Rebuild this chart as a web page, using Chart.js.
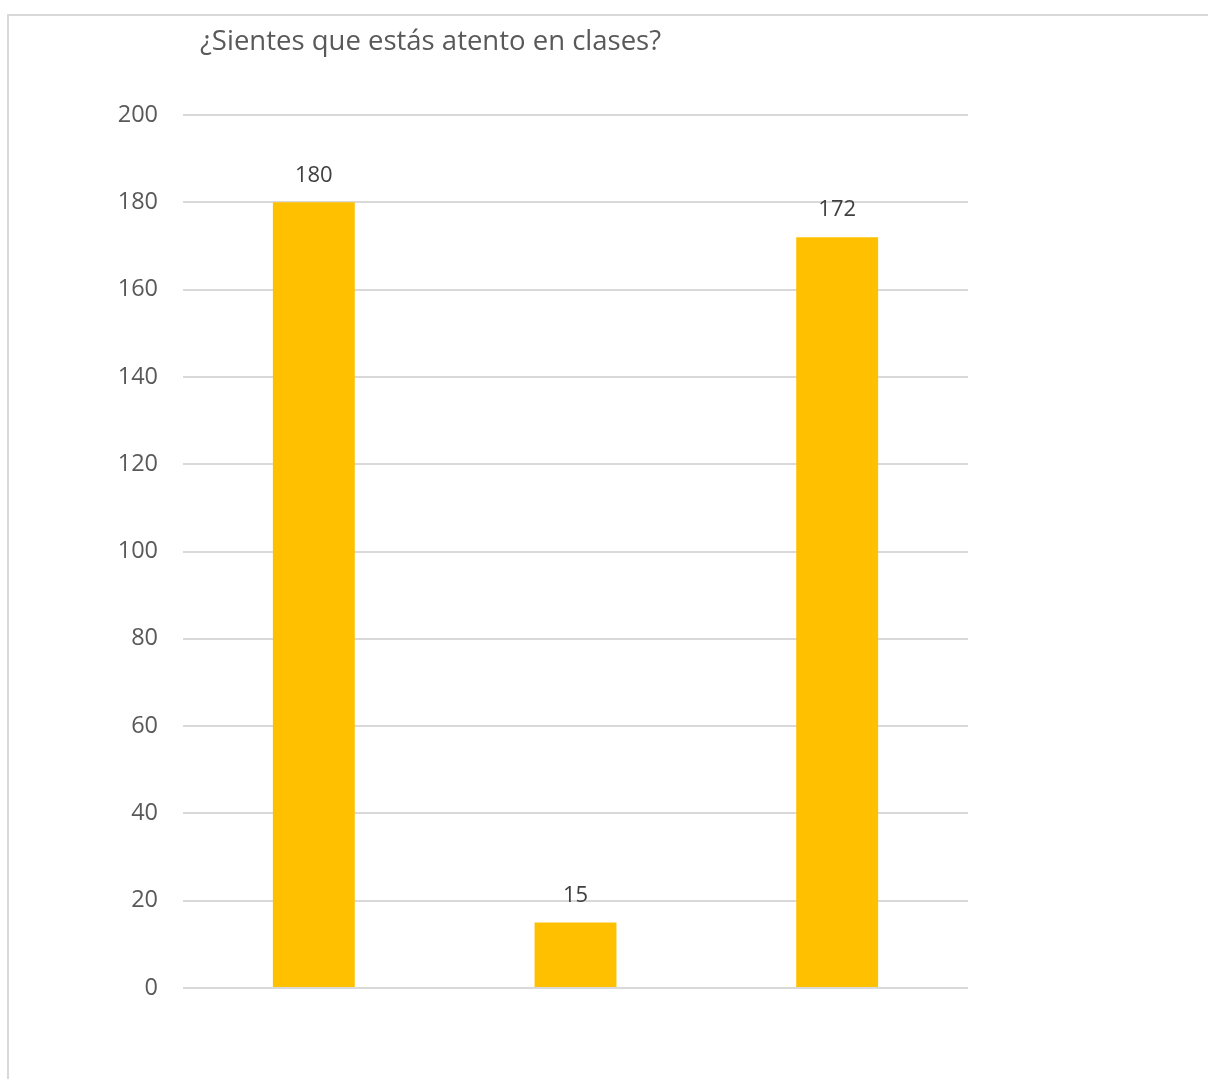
<!DOCTYPE html>
<html>
<head>
<meta charset="utf-8">
<script src="https://cdn.jsdelivr.net/npm/chart.js@4"></script>
<style>
  html, body { margin: 0; padding: 0; background: #fff; }
  #wrap { position: relative; width: 1208px; height: 1079px; overflow: hidden; }
  #frame {
    position: absolute; left: 7px; top: 14px; width: 1300px; height: 1200px;
    border-left: 2px solid #d9d9d9; border-top: 2px solid #d9d9d9;
  }
  #chart { position: absolute; left: 0; top: 0; }
</style>
</head>
<body>
<div id="wrap">
  <div id="frame"></div>
  <canvas id="chart" width="1208" height="1079"></canvas>
</div>
<script>
const title = '¿Sientes que estás atento en clases?';
const categories = ['', '', ''];
const answers = [180, 15, 172];
const yTicks = { min: 0, max: 200, step: 20 };

const FONT = '"Open Sans", "Noto Sans", sans-serif';

// value labels above each bar
const barLabels = {
  id: 'barLabels',
  afterDatasetsDraw(chart) {
    const ctx = chart.ctx;
    const meta = chart.getDatasetMeta(0);
    ctx.save();
    ctx.font = '22px ' + FONT;
    ctx.fillStyle = '#404040';
    ctx.textAlign = 'center';
    ctx.textBaseline = 'middle';
    meta.data.forEach((bar, i) => {
      ctx.fillText(String(answers[i]), bar.x, bar.y - 27);
    });
    ctx.restore();
  }
};

// chart title, left of centre like the sheet it came from
const titleText = {
  id: 'titleText',
  afterDraw(chart) {
    const ctx = chart.ctx;
    ctx.save();
    ctx.font = '27.5px ' + FONT;
    ctx.fillStyle = '#595959';
    ctx.textAlign = 'left';
    ctx.textBaseline = 'middle';
    ctx.fillText(title, 200, 42);
    ctx.restore();
  }
};

new Chart(document.getElementById('chart').getContext('2d'), {
  type: 'bar',
  data: {
    labels: categories,
    datasets: [{
      data: answers,
      backgroundColor: '#FFC000',
      categoryPercentage: 1,
      barPercentage: 0.313
    }]
  },
  options: {
    responsive: false,
    animation: false,
    layout: { padding: { top: 115, bottom: 91, left: 0, right: 240 } },
    plugins: {
      legend: { display: false },
      title: { display: false },
      tooltip: { enabled: false }
    },
    scales: {
      x: {
        display: false
      },
      y: {
        min: yTicks.min,
        max: yTicks.max,
        afterFit(scale) { scale.width = 183; },
        ticks: {
          stepSize: yTicks.step,
          padding: 25,
          color: '#595959',
          font: { family: FONT, size: 23.5 }
        },
        grid: { color: '#d9d9d9', lineWidth: 2, drawTicks: false },
        border: { display: false }
      }
    }
  },
  plugins: [barLabels, titleText]
});
</script>
</body>
</html>
